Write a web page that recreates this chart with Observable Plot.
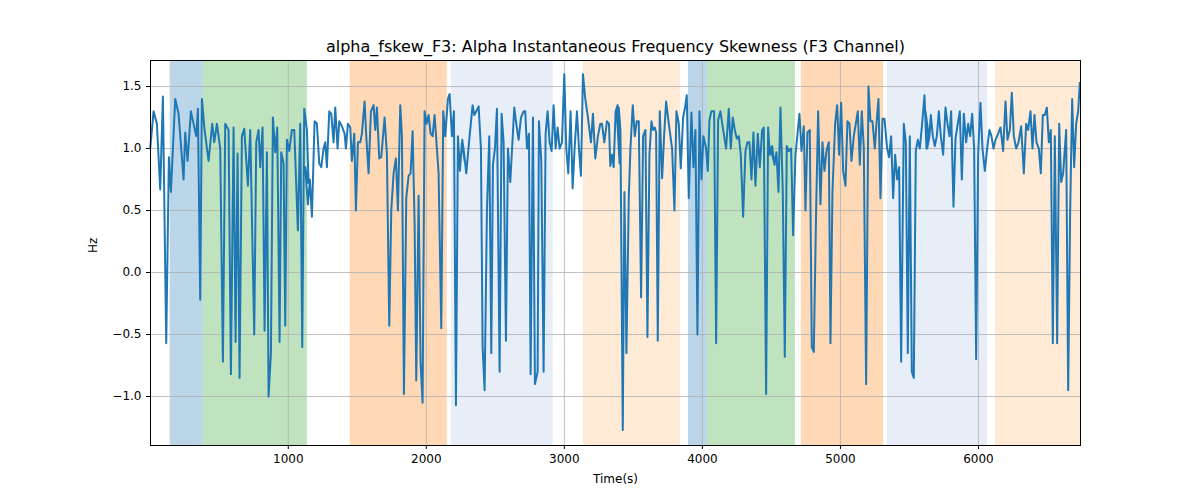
<!DOCTYPE html>
<html><head><meta charset="utf-8">
<script src="https://cdn.jsdelivr.net/npm/d3@7"></script>
<script src="https://cdn.jsdelivr.net/npm/@observablehq/plot@0.6"></script>
<style>body{margin:0;background:#fff;font-family:"DejaVu Sans",sans-serif}</style>
</head><body><div id="c"></div>
<script>
// Segment start times (s) and sample offsets (in reading units, 1 unit = 2.415 s) with values (Hz)
const segStart = [0, 1123, 2246, 3370, 4493, 5616];
const seg1 = [[0,1.0],[10,1.3],[20,1.2],[30,0.67],[38,1.42],[48,-0.57],[56,0.93],[62,0.65],[75,1.4],[85,1.28],[100,0.75],[105,1.13],[112,0.9],[122,1.3],[138,1.1],[143,1.32],[150,-0.22],[155,1.4],[163,1.15],[175,0.9],[186,1.2],[192,1.05],[200,1.2],[210,1.0],[218,-0.72],[225,1.2],[235,1.15],[242,-0.82],[250,1.17],[256,-0.56],[262,0.96],[268,-0.85],[275,1.1],[282,1.16],[293,0.7],[300,1.15],[312,-0.5],[318,1.05],[325,1.15],[330,0.85],[337,1.17],[343,-0.47],[350,0.97],[355,-1.0],[362,-0.65],[368,1.25],[375,0.97],[381,1.17],[388,-0.56],[393,0.97],[400,0.88],[405,-0.43],[410,1.07],[417,0.98],[425,1.15],[432,1.15],[443,0.34],[450,1.2],[456,-0.6],[462,1.32],[470,1.15],[475,0.72]];
const seg2 = [[0,0.85],[8,0.55],[14,0.75],[20,0.45],[28,1.22],[35,1.2],[42,0.88],[48,0.85],[55,1.0],[60,1.05],[65,0.85],[72,1.3],[78,1.28],[85,1.05],[90,1.33],[97,1.0],[102,1.22],[110,1.18],[118,1.12],[122,1.0],[128,1.2],[135,1.17],[140,0.9],[147,1.12],[152,0.5],[158,1.05],[165,1.05],[170,1.12],[178,1.38],[183,1.1],[190,0.8],[197,1.3],[205,1.35],[210,1.15],[215,1.33],[222,0.92],[228,0.93],[238,1.25],[245,0.95],[252,-0.43],[258,0.5],[265,0.8],[272,0.92],[278,0.5],[285,1.35],[290,1.1],[296,-0.98],[303,0.6],[310,0.78],[316,0.8],[322,1.14],[328,0.4],[333,-0.87],[340,0.62],[346,-0.73],[352,-1.05],[358,1.3],[364,1.2],[370,1.27],[376,1.12],[382,1.1],[388,1.27],[400,0.8],[408,-0.45],[414,1.3],[420,1.1],[428,1.4],[433,1.44],[440,1.1],[446,1.3],[452,-1.07],[458,1.1],[464,0.82],[470,1.05],[478,0.9]];
const seg3 = [[6,1.07],[12,0.95],[18,0.8],[28,1.1],[37,1.35],[42,1.27],[48,1.3],[55,1.34],[62,1.0],[67,-0.6],[73,-0.95],[80,0.5],[87,1.1],[93,-0.65],[98,0.87],[104,1.0],[110,1.32],[118,-0.8],[124,1.28],[130,1.05],[137,-0.55],[143,1.0],[150,0.73],[162,1.33],[168,1.2],[175,1.07],[182,1.25],[190,1.3],[195,1.3],[200,1.0],[206,1.12],[211,-0.82],[218,1.25],[224,-0.9],[232,-0.8],[236,1.22],[243,0.9],[250,-0.8],[256,1.12],[262,1.3],[268,1.05],[274,0.98],[280,1.35],[286,1.0],[292,1.17],[298,1.0],[305,1.05],[312,1.6],[318,1.0],[324,0.8],[331,1.3],[337,0.68],[343,1.0],[350,1.3],[356,1.0],[362,0.78],[368,1.6],[375,1.4],[382,1.27],[392,1.05],[398,1.28],[405,0.92],[413,1.1],[420,1.2],[425,1.2],[432,1.05],[440,1.22],[446,1.2],[450,0.86],[455,0.95],[460,0.85],[466,1.3],[472,1.35],[478,0.88]];
const seg4 = [[4,1.3],[10,1.33],[15,1.15],[22,-1.27],[27,0.65],[33,-0.65],[40,0.6],[45,1.0],[52,1.35],[58,1.1],[64,1.22],[70,1.22],[77,-0.2],[83,1.1],[90,1.15],[96,-0.52],[102,0.95],[108,1.22],[113,1.15],[118,1.17],[122,1.13],[127,-0.55],[133,1.3],[140,0.76],[146,1.1],[152,1.38],[160,1.2],[170,1.0],[177,0.5],[183,1.3],[190,1.2],[196,0.84],[203,1.25],[210,1.35],[214,1.43],[220,0.6],[228,1.29],[234,0.85],[240,1.15],[246,-0.5],[252,1.3],[258,0.75],[264,1.1],[272,1.0],[277,0.82],[282,1.23],[288,1.3],[296,1.3],[302,-0.57],[308,1.23],[315,1.3],[322,1.17],[332,1.0],[340,1.32],[346,1.0],[352,1.25],[358,1.15],[364,1.08],[370,1.1],[376,0.95],[383,0.45],[390,0.98],[396,1.05],[402,1.05],[408,0.75],[414,1.13],[420,0.7],[427,1.12],[433,0.85],[440,1.15],[445,1.17],[452,-0.98],[458,1.17],[463,0.95],[468,1.0],[473,0.95],[478,0.87]];
const seg5 = [[0,1.0],[5,1.02],[12,0.87],[18,0.97],[24,0.65],[30,1.33],[37,0.65],[43,-0.68],[49,1.02],[55,0.98],[62,1.0],[68,0.3],[75,0.95],[87,1.28],[93,0.98],[100,1.18],[105,0.5],[111,1.13],[118,1.15],[124,-0.6],[130,-0.64],[137,0.5],[143,1.3],[150,0.55],[156,1.05],[162,0.82],[168,0.98],[175,1.05],[180,-0.57],[186,0.65],[194,1.2],[200,1.35],[206,0.95],[212,1.37],[218,0.82],[225,0.7],[231,1.22],[237,1.2],[243,0.9],[250,1.1],[262,1.3],[268,0.87],[274,1.3],[280,1.0],[287,-0.9],[294,1.5],[300,1.22],[306,1.22],[313,1.0],[318,1.2],[324,1.4],[330,0.6],[336,1.24],[342,1.24],[350,1.0],[356,0.93],[362,1.1],[368,0.6],[374,0.95],[380,0.75],[386,0.85],[392,-0.72],[400,1.2],[406,1.05],[412,-0.65],[418,1.1],[424,-0.8],[430,-0.85],[436,0.98],[442,1.07],[448,1.0],[455,1.2],[462,1.43],[468,1.0],[475,1.1]];
const seg6 = [[0,1.3],[5,1.0],[12,1.1],[16,1.27],[22,1.1],[28,1.02],[34,1.1],[40,1.3],[46,1.1],[53,0.95],[60,1.33],[66,1.2],[72,1.1],[77,1.3],[84,0.53],[90,1.08],[97,1.2],[103,1.3],[109,0.75],[115,1.28],[122,1.05],[128,1.2],[134,1.1],[140,1.28],[146,1.0],[152,-0.7],[158,0.95],[165,1.37],[171,1.0],[178,0.82],[185,1.0],[192,1.15],[198,1.1],[204,1.0],[210,1.07],[218,1.12],[225,1.17],[233,0.98],[240,1.38],[246,1.07],[253,1.15],[259,1.45],[265,1.1],[272,1.0],[279,1.05],[287,1.18],[295,0.8],[302,1.2],[308,1.15],[315,1.3],[321,1.0],[327,1.27],[333,1.05],[340,1.0],[346,0.8],[352,1.27],[358,1.27],[364,1.33],[370,1.05],[376,1.15],[382,-0.57],[388,1.1],[395,-0.57],[401,1.2],[407,0.73],[413,0.8],[422,1.15],[428,-0.95],[434,0.5],[440,1.4],[446,0.85],[452,1.2],[458,1.3],[463,1.53]];
const unit = 2.415;

// Shaded intervals (s)
const spanStart = [145, 384, 1449, 2181, 3138, 3899, 4036, 4717, 5341, 6123];
const spanEnd   = [384, 1138, 2152, 2920, 3841, 4036, 4674, 5312, 6065, 6739];
const spanColor = ["#1f77b4","#2ca02c","#ff7f0e","#aec7e8","#ffbb78","#1f77b4","#2ca02c","#ff7f0e","#aec7e8","#ffbb78"];
const xTicks = [1000,2000,3000,4000,5000,6000];
const yTicks = [-1.0,-0.5,0.0,0.5,1.0,1.5];

const series = [];
[seg1,seg2,seg3,seg4,seg5,seg6].forEach((s,i)=>s.forEach(([o,v])=>series.push({t: segStart[i]+o*unit, v})));
const spans = spanStart.map((s,i)=>({x1:s,x2:spanEnd[i],c:spanColor[i]}));

const chart = Plot.plot({
  width:1200, height:500,
  marginLeft:150, marginRight:120, marginTop:60, marginBottom:55,
  style:{fontFamily:"DejaVu Sans, sans-serif", fontSize:"12px", color:"#000"},
  x:{domain:[2,6739], ticks:xTicks, tickFormat:d3.format("d"), label:null, tickSize:4},
  y:{domain:[-1.395,1.71], ticks:yTicks, tickFormat:d3.format(".1f"), label:null, tickSize:4},
  marks:[
    Plot.rectY(spans,{x1:"x1",x2:"x2",y1:-1.395,y2:1.71,fill:"c",fillOpacity:0.3}),
    Plot.gridX(xTicks,{stroke:"#b0b0b0",strokeOpacity:1,strokeWidth:0.8}),
    Plot.gridY(yTicks,{stroke:"#b0b0b0",strokeOpacity:1,strokeWidth:0.8}),
    Plot.lineY(series,{x:"t",y:"v",stroke:"#1f77b4",strokeWidth:2}),
    Plot.frame({stroke:"#000"}),
    Plot.text(["alpha_fskew_F3: Alpha Instantaneous Frequency Skewness (F3 Channel)"],{frameAnchor:"top",dy:-20,fontSize:16}),
    Plot.text(["Time(s)"],{frameAnchor:"bottom",dy:37,fontSize:12}),
    Plot.text(["Hz"],{frameAnchor:"left",dx:-57,rotate:-90,fontSize:12})
  ]
});
document.getElementById("c").appendChild(chart);
</script></body></html>
